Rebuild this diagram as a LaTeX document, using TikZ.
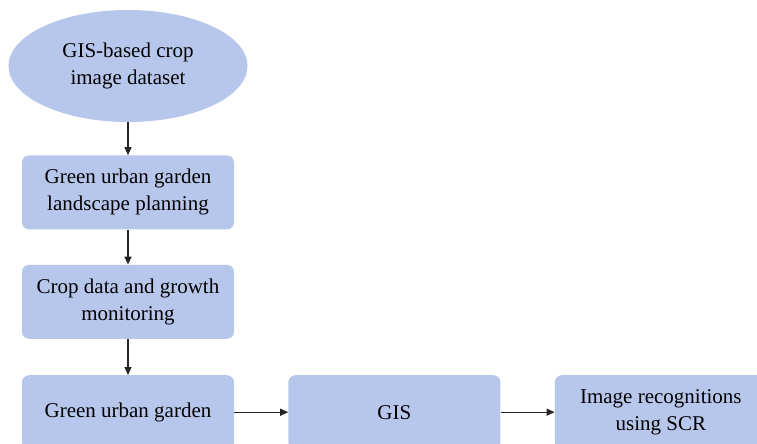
\documentclass[tikz,border=0pt]{standalone}
\usepackage{fontspec}
\setmainfont{Liberation Serif}
\usepackage{xcolor}
\usetikzlibrary{arrows.meta,positioning,shapes.geometric}

\definecolor{boxblue}{HTML}{B7C7EC}

\begin{document}
\begin{tikzpicture}[
  x=1pt,y=1pt,
  node distance=34pt and 54pt,
  font=\fontsize{21}{27}\selectfont,
  box/.style={rounded corners=7pt,minimum width=212pt,minimum height=74pt,align=center,fill=boxblue,inner sep=0pt},
  src/.style={ellipse,minimum width=239pt,minimum height=112pt,align=center,fill=boxblue,inner sep=0pt},
  arr/.style={-{Triangle[length=8pt,width=7pt]},line width=1.3pt,draw=black!85}
]
\useasboundingbox (0,0) rectangle (757,-444);
\clip (0,0) rectangle (757,-444);

\node[src] (data) at (128,-66) {GIS-based crop\\image dataset};
\node[box,below=33pt of data] (plan) {Green urban garden\\landscape planning};
\node[box,below=35pt of plan] (mon) {Crop data and growth\\monitoring};
\node[box,below=36pt of mon] (garden) {Green urban garden};
\node[box,right=of garden] (gis) {GIS};
\node[box,right=of gis] (scr) {Image recognitions\\using SCR};

\draw[arr] (data) -- (plan);
\draw[arr] (plan) -- (mon);
\draw[arr] (mon) -- (garden);
\draw[arr] (garden) -- (gis);
\draw[arr] (gis) -- (scr);
\end{tikzpicture}
\end{document}
